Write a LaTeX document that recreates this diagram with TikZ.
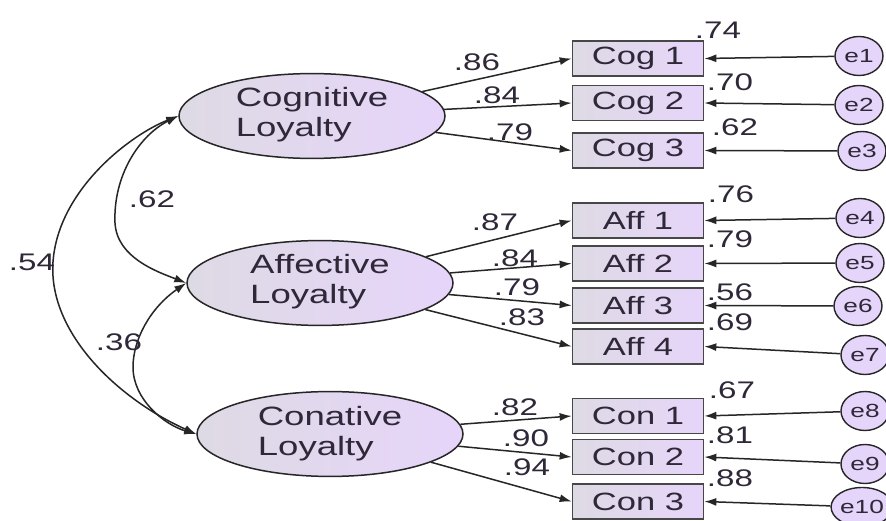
\documentclass[tikz,border=0pt]{standalone}
\usepackage{fontspec}
\setmainfont{Liberation Sans}
\usepackage{graphicx}
\usetikzlibrary{arrows.meta,shapes.geometric}
\definecolor{txt}{HTML}{2F2838}
\definecolor{ln}{HTML}{262626}
\definecolor{lavL}{HTML}{DEDAE4}
\definecolor{lavR}{HTML}{E6D5FA}
\newcommand{\wx}[1]{\scalebox{1.38}[1]{#1}}
\newcommand{\twol}[2]{\wx{\begin{tabular}{@{}l@{}}#1\\#2\end{tabular}}}
\begin{document}
\begin{tikzpicture}[x=1pt,y=-1pt,
  latent/.style={ellipse, draw=ln, line width=1.5pt, left color=lavL, right color=lavR, minimum width=266pt, minimum height=82pt, inner sep=0pt, text=txt, font=\fontsize{26.5}{30}\selectfont},
  obs/.style={rectangle, draw=ln!85, line width=1.7pt, left color=lavL, right color=lavR, minimum width=131pt, minimum height=35pt, inner sep=0pt, text=txt, font=\fontsize{25}{30}\selectfont},
  err/.style={ellipse, draw=ln, line width=1.4pt, fill=lavR, minimum width=48pt, minimum height=39pt, inner sep=0pt, text=txt, font=\fontsize{19}{22}\selectfont},
  lbl/.style={inner sep=0pt, text=txt, font=\fontsize{24}{28}\selectfont},
  arr/.style={draw=ln, line width=1.5pt, -{Latex[length=12pt,width=8pt]}},
  cov/.style={draw=ln, line width=1.5pt, {Latex[length=12pt,width=8pt]}-{Latex[length=12pt,width=8pt]}}
]
\clip (0,0) rectangle (886,521);
\fill[white] (0,0) rectangle (886,521);

% latent variables
\node[latent] (cog) at (312,116) {\twol{Cognitive}{Loyalty}};
\node[latent] (aff) at (320,283) {\twol{Affective}{Loyalty}};
\node[latent] (con) at (330,434) {\twol{Conative}{Loyalty}};

% observed variables
\node[obs] (cog1) at (638,58.5) {\wx{Cog 1}};
\node[obs] (cog2) at (638,103) {\wx{Cog 2}};
\node[obs] (cog3) at (638,150.5) {\wx{Cog 3}};
\node[obs] (aff1) at (638,220.5) {\wx{Aff 1}};
\node[obs] (aff2) at (638,263.5) {\wx{Aff 2}};
\node[obs] (aff3) at (638,305.5) {\wx{Aff 3}};
\node[obs] (aff4) at (638,346.5) {\wx{Aff 4}};
\node[obs] (con1) at (638,416) {\wx{Con 1}};
\node[obs] (con2) at (638,457) {\wx{Con 2}};
\node[obs] (con3) at (638,501.5) {\wx{Con 3}};

% errors
\node[err] (e1) at (859,56) {\wx{e1}};
\node[err] (e2) at (859,105) {\wx{e2}};
\node[err] (e3) at (862,151) {\wx{e3}};
\node[err] (e4) at (860,218) {\wx{e4}};
\node[err] (e5) at (860,263) {\wx{e5}};
\node[err] (e6) at (858,306) {\wx{e6}};
\node[err] (e7) at (865,355) {\wx{e7}};
\node[err] (e8) at (865,411) {\wx{e8}};
\node[err] (e9) at (865,464) {\wx{e9}};
\node[err] (e10) at (862,507) {\wx{e10}};

% loadings
\foreach \a/\b in {cog/cog1,cog/cog2,cog/cog3,aff/aff1,aff/aff2,aff/aff3,aff/aff4,con/con1,con/con2,con/con3}
  \draw[arr] (\a) -- (\b.west);
\foreach \i/\b in {1/cog1,2/cog2,3/cog3,4/aff1,5/aff2,6/aff3,7/aff4,8/con1,9/con2,10/con3}
  \draw[arr] (e\i) -- (\b.east);

% covariances
\draw[cov] (cog.west) .. controls (140,135) and (113,175) .. (115,223) .. controls (117,258) and (158,272) .. (aff.west);
\draw[cov] (cog.west) .. controls (130,135) and (58,190) .. (53,262) .. controls (48,334) and (120,400) .. (con.west);
\draw[cov] (aff.west) .. controls (150,308) and (133,340) .. (133,367) .. controls (133,400) and (165,425) .. (con.west);

% labels
\node[lbl] (l62) at (152,199) {\wx{.62}};
\node[lbl] (l54) at (32,262) {\wx{.54}};
\node[lbl] (l36) at (119,342) {\wx{.36}};

\node[lbl] (lc1) at (477,62) {\wx{.86}};
\node[lbl] (lc2) at (497,95) {\wx{.84}};
\node[lbl] (lc3) at (510,132) {\wx{.79}};
\node[lbl] (la1) at (495,222) {\wx{.87}};
\node[lbl] (la2) at (515,258) {\wx{.84}};
\node[lbl] (la3) at (517,287) {\wx{.79}};
\node[lbl] (la4) at (522,317) {\wx{.83}};
\node[lbl] (ln1) at (515,407) {\wx{.82}};
\node[lbl] (ln2) at (526,438) {\wx{.90}};
\node[lbl] (ln3) at (527,467) {\wx{.94}};

\node[lbl] (r1) at (718,30) {\wx{.74}};
\node[lbl] (r2) at (730,82) {\wx{.70}};
\node[lbl] (r3) at (735,127) {\wx{.62}};
\node[lbl] (r4) at (731,194) {\wx{.76}};
\node[lbl] (r5) at (730,239) {\wx{.79}};
\node[lbl] (r6) at (730,292) {\wx{.56}};
\node[lbl] (r7) at (730,322) {\wx{.69}};
\node[lbl] (r8) at (732,390) {\wx{.67}};
\node[lbl] (r9) at (730,435) {\wx{.81}};
\node[lbl] (r10) at (730,478) {\wx{.88}};
\end{tikzpicture}
\end{document}
